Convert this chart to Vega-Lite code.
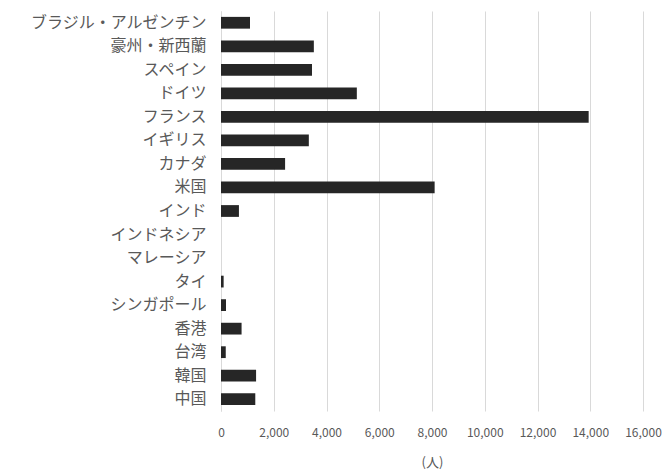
{
  "$schema": "https://vega.github.io/schema/vega-lite/v6.json",
  "width": 422,
  "height": 400,
  "autosize": "none",
  "padding": {"left": 221, "top": 11, "right": 27, "bottom": 58},
  "background": "white",
  "config": {"view": {"stroke": null}, "font": "Noto Sans CJK JP"},
  "data": {"values": [
    {"country": "ブラジル・アルゼンチン", "value": 1100},
    {"country": "豪州・新西蘭", "value": 3520},
    {"country": "スペイン", "value": 3450},
    {"country": "ドイツ", "value": 5150},
    {"country": "フランス", "value": 13940},
    {"country": "イギリス", "value": 3330},
    {"country": "カナダ", "value": 2430},
    {"country": "米国", "value": 8100},
    {"country": "インド", "value": 680},
    {"country": "インドネシア", "value": 0},
    {"country": "マレーシア", "value": 0},
    {"country": "タイ", "value": 100},
    {"country": "シンガポール", "value": 190},
    {"country": "香港", "value": 780},
    {"country": "台湾", "value": 180},
    {"country": "韓国", "value": 1330},
    {"country": "中国", "value": 1300}
  ]},
  "mark": {"type": "bar", "color": "#262626"},
  "encoding": {
    "y": {
      "field": "country", "type": "nominal", "sort": null,
      "scale": {"paddingInner": 0.5, "paddingOuter": 0.25},
      "axis": {"title": null, "ticks": false, "domain": true, "domainColor": "#d9d9d9",
               "labelFontSize": 16, "labelColor": "#595959", "labelPadding": 15, "grid": false}
    },
    "x": {
      "field": "value", "type": "quantitative",
      "scale": {"domain": [0, 16000], "nice": false},
      "axis": {"values": [0, 2000, 4000, 6000, 8000, 10000, 12000, 14000, 16000],
               "format": ",.0f", "labelOverlap": false, "labelFlush": false, "labelBound": false,
               "title": "(人)", "titleFontSize": 13, "titleFontWeight": "normal",
               "titleColor": "#595959", "titlePadding": 18,
               "labelFontSize": 12, "labelColor": "#595959", "labelPadding": 16,
               "ticks": false, "domain": false, "grid": true, "gridColor": "#d9d9d9"}
    }
  }
}
